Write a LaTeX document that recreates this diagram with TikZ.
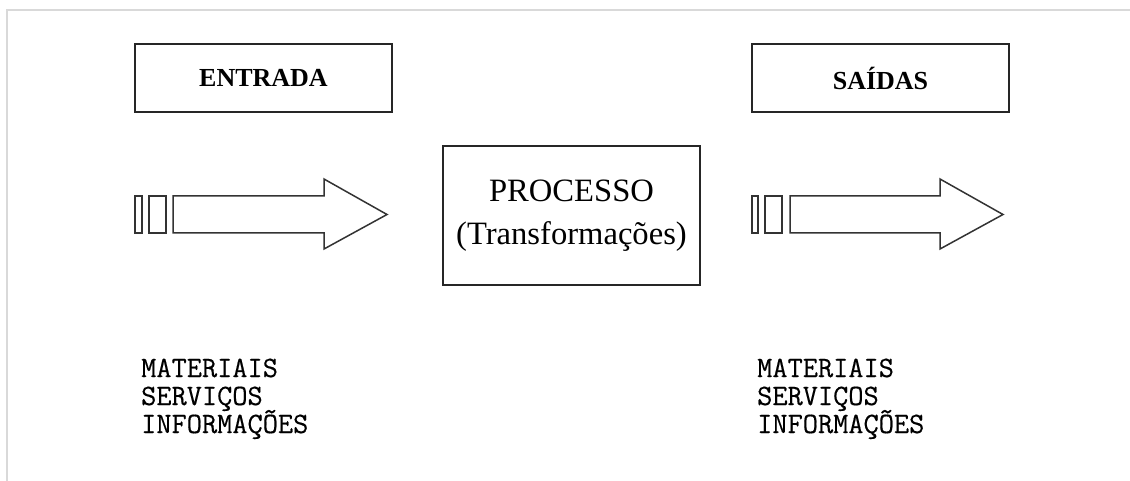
\documentclass[tikz,border=0pt]{standalone}
\usepackage{fontspec}
\setmainfont{Liberation Serif}
\newfontfamily\listfont[FakeBold=0.4]{Latin Modern Mono}
\begin{document}
\begin{tikzpicture}[x=1pt,y=-1pt,
  frameline/.style={draw=black!15,line width=1.5pt},
  headbox/.style={draw=black!85,line width=2pt,minimum width=257pt,inner sep=0pt,
    font=\fontsize{26}{30}\selectfont\bfseries},
  procbox/.style={draw=black!85,line width=2pt,minimum width=257pt,minimum height=139pt,
    inner sep=0pt,align=center,font=\fontsize{32.6}{43}\selectfont},
  blockarrow/.style={draw=black!80,line width=1.5pt,fill=white,line join=miter},
  listitem/.style={anchor=base west,inner sep=0pt,font=\fontsize{29.5}{28}\listfont}]
  \useasboundingbox (0,0) rectangle (1130,481);
  % page frame
  \draw[frameline] (7,481) -- (7,10) -- (1130,10);

  % headings
  \node[headbox,minimum height=67.5pt] (entrada) at (263.5,78.25) {ENTRADA};
  \node[headbox,minimum height=67.5pt] (saidas) at (880.5,78.25) {SAÍDAS};

  % central process box
  \node[procbox] (processo) at (571.5,215.5) {PROCESSO\\(Transformações)};

  % input block arrow with its two trailing bars
  \draw[blockarrow] (135,196) rectangle (142,233);
  \draw[blockarrow] (149,196) rectangle (166,233);
  \draw[blockarrow] (173,196) -- (324,196) -- (324,179) -- (387,214.5)
    -- (324,249) -- (324,233) -- (173,233) -- cycle;

  % output block arrow with its two trailing bars
  \draw[blockarrow] (752,196) rectangle (758,233);
  \draw[blockarrow] (765,196) rectangle (782,233);
  \draw[blockarrow] (790,196) -- (940,196) -- (940,179) -- (1003,214.5)
    -- (940,249) -- (940,233) -- (790,233) -- cycle;

  % item lists
  \node[listitem] (inA) at (141,377) {MATERIAIS};
  \node[listitem] (inB) at (141,405) {SERVIÇOS};
  \node[listitem] (inC) at (141,433) {INFORMAÇÕES};
  \node[listitem] (outA) at (757,377) {MATERIAIS};
  \node[listitem] (outB) at (757,405) {SERVIÇOS};
  \node[listitem] (outC) at (757,433) {INFORMAÇÕES};
\end{tikzpicture}
\end{document}
